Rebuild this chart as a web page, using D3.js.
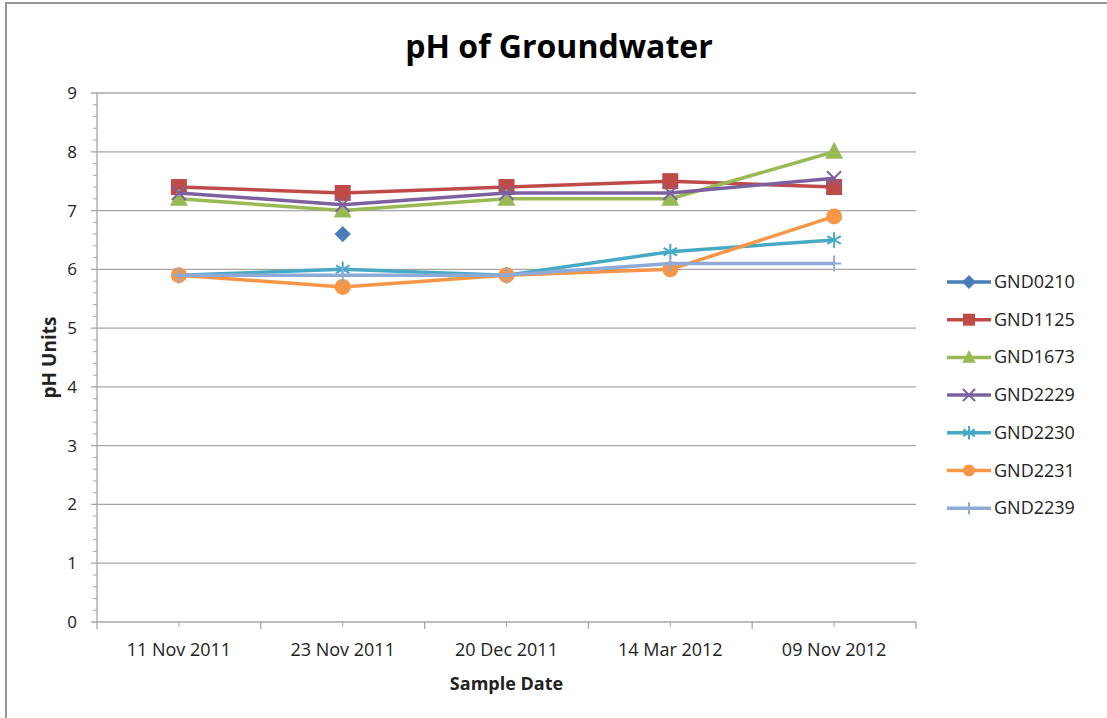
<html>
  <head>
    <style>
      body { margin: 0; background: #fff; }
      text { font-family: 'Open Sans', sans-serif; fill: #222; }
    </style>
  </head>
  <body>
    <script src="https://d3js.org/d3.v7.min.js"></script>

    <svg id="chart" width="1107" height="718"></svg>

    <script>
      const dates = ['11 Nov 2011', '23 Nov 2011', '20 Dec 2011', '14 Mar 2012', '09 Nov 2012'];
      const yTicks = [0, 1, 2, 3, 4, 5, 6, 7, 8, 9];

      const gnd0210 = [null, 6.6, null, null, null];
      const gnd1125 = [7.4, 7.3, 7.4, 7.5, 7.4];
      const gnd1673 = [7.2, 7.0, 7.2, 7.2, 8.0];
      const gnd2229 = [7.3, 7.1, 7.3, 7.3, 7.55];
      const gnd2230 = [5.9, 6.0, 5.9, 6.3, 6.5];
      const gnd2231 = [5.9, 5.7, 5.9, 6.0, 6.9];
      const gnd2239 = [5.9, 5.9, 5.9, 6.1, 6.1];

      const series = [
        { name: 'GND0210', values: gnd0210, color: '#4a7ebb', marker: 'diamond' },
        { name: 'GND1125', values: gnd1125, color: '#be4b48', marker: 'square' },
        { name: 'GND1673', values: gnd1673, color: '#98b954', marker: 'triangle' },
        { name: 'GND2229', values: gnd2229, color: '#7d60a0', marker: 'x' },
        { name: 'GND2230', values: gnd2230, color: '#46aac5', marker: 'star' },
        { name: 'GND2231', values: gnd2231, color: '#f79646', marker: 'circle' },
        { name: 'GND2239', values: gnd2239, color: '#8eaad8', marker: 'plus' },
      ];

      const svg = d3.select('#chart');
      const pLeft = 97, pRight = 916, pTop = 93, pBottom = 622;

      // outer frame
      svg.append('rect')
        .attr('x', 6).attr('y', 3)
        .attr('width', 1110).attr('height', 730)
        .attr('fill', 'none').attr('stroke', '#999').attr('stroke-width', 2);

      const x = d3.scaleBand().domain(dates).range([pLeft, pRight]);
      const y = d3.scaleLinear().domain([0, 9]).range([pBottom, pTop]);

      // gridlines
      svg.append('g')
        .selectAll('line')
        .data(yTicks)
        .enter()
        .append('line')
        .attr('x1', pLeft - 6).attr('x2', pRight)
        .attr('y1', (d) => y(d)).attr('y2', (d) => y(d))
        .attr('stroke', '#a6a6a6').attr('stroke-width', 1.3);

      // minor y ticks
      svg.append('g')
        .selectAll('line')
        .data(d3.range(0, 9.01, 0.2).filter((v) => Math.abs(v - Math.round(v)) > 0.01))
        .enter()
        .append('line')
        .attr('x1', pLeft - 4).attr('x2', pLeft)
        .attr('y1', (d) => y(d)).attr('y2', (d) => y(d))
        .attr('stroke', '#a6a6a6').attr('stroke-width', 1);

      // y axis line
      svg.append('line')
        .attr('x1', pLeft).attr('x2', pLeft)
        .attr('y1', pTop).attr('y2', pBottom)
        .attr('stroke', '#a6a6a6').attr('stroke-width', 1.3);

      // y tick labels
      svg.append('g')
        .selectAll('text')
        .data(yTicks)
        .enter()
        .append('text')
        .text((d) => d)
        .attr('x', 77)
        .attr('y', (d) => y(d) + 6)
        .attr('text-anchor', 'end')
        .attr('font-size', 17);

      // x ticks: category edges and centres
      const edges = dates.map((d) => x(d)).concat([pRight]);
      svg.append('g')
        .selectAll('line')
        .data(edges)
        .enter()
        .append('line')
        .attr('x1', (d) => d).attr('x2', (d) => d)
        .attr('y1', pBottom).attr('y2', pBottom + 7)
        .attr('stroke', '#a6a6a6').attr('stroke-width', 1.3);
      svg.append('g')
        .selectAll('line')
        .data(dates)
        .enter()
        .append('line')
        .attr('x1', (d) => x(d) + x.bandwidth() / 2).attr('x2', (d) => x(d) + x.bandwidth() / 2)
        .attr('y1', pBottom).attr('y2', pBottom + 5)
        .attr('stroke', '#a6a6a6').attr('stroke-width', 1);

      svg.append('g')
        .selectAll('text')
        .data(dates)
        .enter()
        .append('text')
        .text((d) => d)
        .attr('x', (d) => x(d) + x.bandwidth() / 2)
        .attr('y', pBottom + 34)
        .attr('text-anchor', 'middle')
        .attr('font-size', 18);

      // titles
      svg.append('text')
        .text('pH of Groundwater')
        .attr('x', 559).attr('y', 58)
        .attr('text-anchor', 'middle')
        .attr('font-size', 32).attr('font-weight', 'bold')
        .style('fill', '#000');

      svg.append('text')
        .text('Sample Date')
        .attr('x', (pLeft + pRight) / 2).attr('y', 690)
        .attr('text-anchor', 'middle')
        .attr('font-size', 18).attr('font-weight', 'bold');

      svg.append('text')
        .text('pH Units')
        .attr('transform', `translate(56, ${(pTop + pBottom) / 2}) rotate(-90)`)
        .attr('text-anchor', 'middle')
        .attr('font-size', 19).attr('font-weight', 'bold');

      // marker drawing
      const drawMarker = (g, type, color, scale) => {
        const s = scale || 1;
        if (type === 'diamond') {
          g.append('path').attr('d', d3.symbol(d3.symbolDiamond2, 170 * s)())
            .attr('fill', color);
        } else if (type === 'square') {
          g.append('rect').attr('x', -8 * s).attr('y', -8 * s)
            .attr('width', 16 * s).attr('height', 16 * s).attr('fill', color);
        } else if (type === 'triangle') {
          g.append('path').attr('d', `M0,${-10 * s}L${9 * s},${7 * s}L${-9 * s},${7 * s}Z`)
            .attr('fill', color);
        } else if (type === 'circle') {
          g.append('circle').attr('r', 8 * s).attr('fill', color);
        } else if (type === 'x') {
          g.append('path').attr('d', d3.symbol(d3.symbolX, 130 * s)())
            .attr('fill', 'none').attr('stroke', color).attr('stroke-width', 2);
        } else if (type === 'star') {
          g.append('path').attr('d', d3.symbol(d3.symbolAsterisk, 170 * s)())
            .attr('fill', 'none').attr('stroke', color).attr('stroke-width', 2);
        } else if (type === 'plus') {
          g.append('path').attr('d', `M${-7 * s},0H${7 * s}M0,${-8 * s}V${8 * s}`)
            .attr('fill', 'none').attr('stroke', color).attr('stroke-width', 2);
        }
      };

      const cx = (i) => x(dates[i]) + x.bandwidth() / 2;
      const line = d3.line()
        .defined((d) => d !== null)
        .x((_, i) => cx(i))
        .y((d) => y(d));

      series.forEach((s) => {
        const g = svg.append('g');
        g.append('path')
          .attr('d', line(s.values))
          .attr('fill', 'none')
          .attr('stroke', s.color)
          .attr('stroke-width', 3.5)
          .attr('stroke-linejoin', 'round');
        s.values.forEach((v, i) => {
          if (v === null) return;
          const m = g.append('g').attr('transform', `translate(${cx(i)},${y(v)})`);
          drawMarker(m, s.marker, s.color, 1);
        });
      });

      // legend
      const legend = svg.append('g')
        .selectAll('g')
        .data(series)
        .enter()
        .append('g')
        .attr('transform', (_, i) => `translate(947, ${282 + i * 37.7})`);
      legend.append('line')
        .attr('x1', 0).attr('x2', 44)
        .attr('stroke', (d) => d.color).attr('stroke-width', 3.5);
      legend.each(function (d) {
        drawMarker(d3.select(this).append('g').attr('transform', 'translate(22,0)'), d.marker, d.color, 0.75);
      });
      legend.append('text')
        .text((d) => d.name)
        .attr('x', 47).attr('y', 6)
        .attr('font-size', 18);
    </script>
  </body>
</html>
